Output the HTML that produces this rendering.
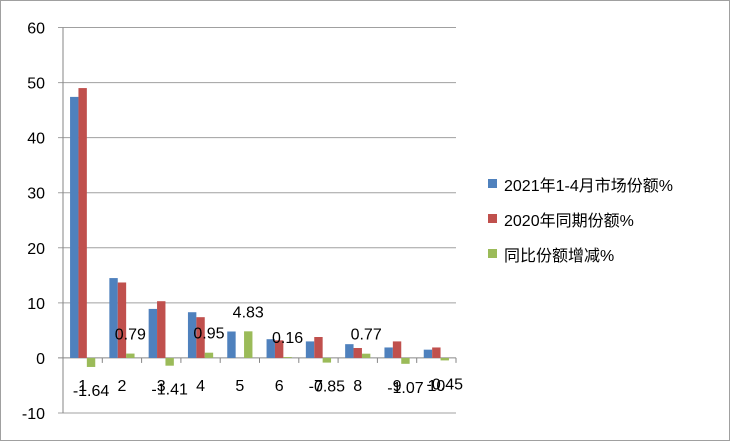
<!DOCTYPE html>
<html><head><meta charset="utf-8"><style>
body{margin:0;background:#fff;}
svg text{font-family:"Liberation Sans","Noto Sans CJK SC",sans-serif;}
</style></head><body>
<svg id="chart" width="730" height="441" viewBox="0 0 730 441" xmlns="http://www.w3.org/2000/svg">
<rect x="0.5" y="0.5" width="729" height="440" fill="#fff" stroke="#a0a0a0"/>
<g id="grid"></g><g id="bars"></g><g id="labels"></g>
<g font-size="16" fill="#000">
<rect x="488" y="179" width="9" height="9" fill="#4f81bd"/>
<text x="504" y="191">2021年1-4月市场份额%</text>
<rect x="488" y="214" width="9" height="9" fill="#c0504d"/>
<text x="504" y="226">2020年同期份额%</text>
<rect x="488" y="249" width="9" height="9" fill="#9bbb59"/>
<text x="504" y="261">同比份额增减%</text>
</g>
</svg>
<script>
const categories=["1","2","3","4","5","6","7","8","9","10"];
const share2021=[47.4,14.5,8.9,8.3,4.8,3.4,3.0,2.5,1.9,1.5];
const share2020=[49.0,13.7,10.3,7.4,0,3.2,3.8,1.8,3.0,1.9];
const change=[-1.64,0.79,-1.41,0.95,4.83,0.16,-0.85,0.77,-1.07,-0.45];
const changeLabels=["-1.64","0.79","-1.41","0.95","4.83","0.16","-0.85","0.77","-1.07","-0.45"];
const yTicks=[60,50,40,30,20,10,0,-10];
const NS="http://www.w3.org/2000/svg";
const x0=63,x1=456,yMin=-10,yMax=60,yTop=27.5,yBot=413;
function y(v){return yTop+(yMax-v)/(yMax-yMin)*(yBot-yTop);}
const cw=(x1-x0)/categories.length;
function cx(i){return x0+i*cw;}
function mk(tag,attrs,parent){const e=document.createElementNS(NS,tag);for(const k in attrs)e.setAttribute(k,attrs[k]);document.getElementById(parent).appendChild(e);return e;}
yTicks.forEach(t=>{
  const l=mk('line',{x1:x0-5,x2:x1,y1:y(t),y2:y(t),stroke:t===0?'#868686':'#a0a0a0','stroke-width':1},'grid');
  
  
  const tx=mk('text',{x:45,y:y(t)+6,'text-anchor':'end','font-size':16},'grid');
  tx.textContent=t;
  
  
});
const ax=mk('line',{x1:x0,x2:x0,y1:yTop,y2:yBot,stroke:'#868686'},'grid');


for(let i=0;i<=categories.length;i++){
  const tk=mk('line',{x1:cx(i),x2:cx(i),y1:y(0),y2:y(0)+5,stroke:'#868686'},'grid');
  
  
}
const bw=8.4,off=(cw-3*bw)/2;
const series=[[share2021,'#4f81bd','bar-2021'],[share2020,'#c0504d','bar-2020'],[change,'#9bbb59','bar-change']];
categories.forEach((c,i)=>{
  series.forEach((s,j)=>{
    const v=s[0][i];
    const r=mk('rect',{x:cx(i)+off+j*bw,y:Math.min(y(v),y(0)),width:bw,height:Math.abs(y(v)-y(0)),fill:s[1]},'bars');
    
    
  });
  const t=mk('text',{x:cx(i)+cw/2,y:y(0)+33,'text-anchor':'middle','font-size':16},'labels');
  t.textContent=c;
  
  
  const v=change[i];
  const lx=cx(i)+off+2.5*bw;
  const ly=v>=0?y(v)-14:y(v)+29;
  const vl=mk('text',{x:lx,y:ly,'text-anchor':'middle','font-size':16},'labels');
  vl.textContent=changeLabels[i];
  
  
});
</script>
</body></html>
